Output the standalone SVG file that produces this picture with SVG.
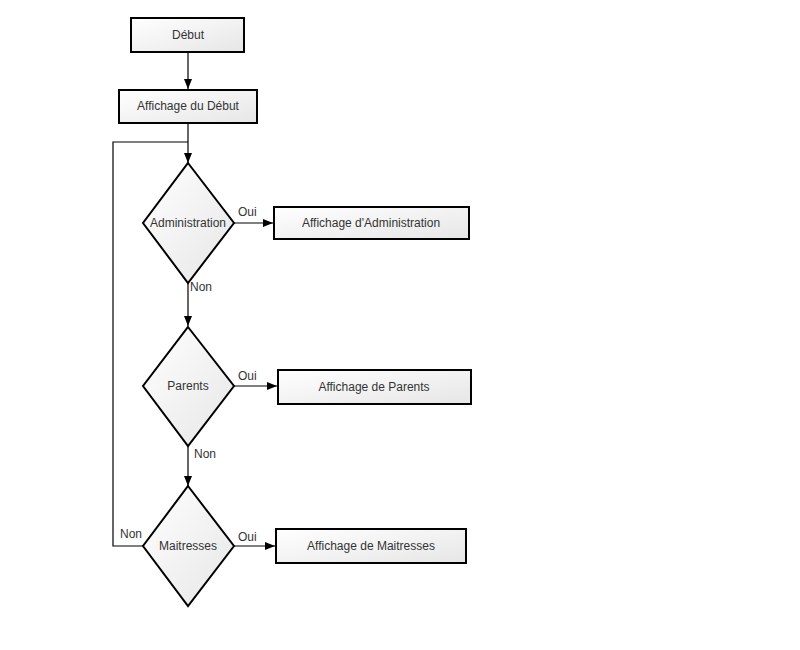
<svg xmlns="http://www.w3.org/2000/svg" width="800" height="650" viewBox="0 0 800 650">
<defs>
<linearGradient id="g" x1="0" y1="0" x2="1" y2="1">
<stop offset="0" stop-color="#ffffff"/>
<stop offset="1" stop-color="#e6e6e6"/>
</linearGradient>
<marker id="arr" markerWidth="10" markerHeight="8" refX="10" refY="4" orient="auto" markerUnits="userSpaceOnUse">
<path d="M0,0 L10,4 L0,8 Z" fill="#000"/>
</marker>
<style>
.n{fill:url(#g);stroke:#000;stroke-width:2}
.t{font-family:"Liberation Sans",Arial,sans-serif;font-size:12px;fill:#333;text-anchor:middle}
.l{font-family:"Liberation Sans",Arial,sans-serif;font-size:12px;fill:#333}
.c{fill:none;stroke:#000;stroke-width:1.2}
</style>
</defs>
<rect width="800" height="650" fill="#fff"/>
<g id="connectors">
<path class="c" d="M188,52 L188,89" marker-end="url(#arr)"/>
<path class="c" d="M188,123 L188,163" marker-end="url(#arr)"/>
<path class="c" d="M234,223 L273,223" marker-end="url(#arr)"/>
<path class="c" d="M188,283 L188,326" marker-end="url(#arr)"/>
<path class="c" d="M234,386 L277,386" marker-end="url(#arr)"/>
<path class="c" d="M188,446 L188,486" marker-end="url(#arr)"/>
<path class="c" d="M234,546 L275,546" marker-end="url(#arr)"/>
<path class="c" d="M143,546 L113,546 L113,142 L188,142"/>
<text class="l" x="238" y="216">Oui</text>
<text class="l" x="190" y="291">Non</text>
<text class="l" x="238" y="380">Oui</text>
<text class="l" x="194" y="458">Non</text>
<text class="l" x="238" y="541">Oui</text>
<text class="l" x="120" y="538">Non</text>
</g>
<g id="debut"><rect class="n" x="131" y="18" width="113" height="34"/><text class="t" x="188" y="39">Début</text></g>
<g id="affichage-debut"><rect class="n" x="119" y="90" width="138" height="33"/><text class="t" x="188" y="110">Affichage du Début</text></g>
<g id="administration"><polygon class="n" points="188,163 234,223 188,283 143,223"/><text class="t" x="188" y="227">Administration</text></g>
<g id="affichage-admin"><rect class="n" x="274" y="207" width="195" height="32"/><text class="t" x="371" y="227">Affichage d'Administration</text></g>
<g id="parents"><polygon class="n" points="188,327 234,386 188,446 143,386"/><text class="t" x="188" y="390">Parents</text></g>
<g id="affichage-parents"><rect class="n" x="278" y="370" width="193" height="34"/><text class="t" x="374" y="391">Affichage de Parents</text></g>
<g id="maitresses"><polygon class="n" points="188,486 234,546 188,606 143,546"/><text class="t" x="188" y="550">Maitresses</text></g>
<g id="affichage-maitresses"><rect class="n" x="276" y="529" width="190" height="34"/><text class="t" x="371" y="550">Affichage de Maitresses</text></g>
</svg>
